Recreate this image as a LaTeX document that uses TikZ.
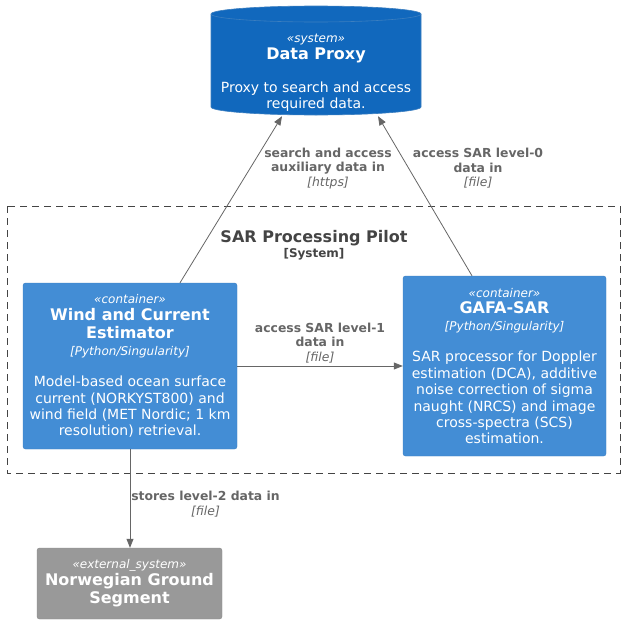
\documentclass[tikz,border=0pt]{standalone}
\usepackage{fontspec}
\setmainfont{DejaVu Sans}
\usetikzlibrary{arrows.meta,calc}
\definecolor{sysblue}{HTML}{1168BD}
\definecolor{contblue}{HTML}{438DD5}
\definecolor{extgrey}{HTML}{999999}
\definecolor{cborder}{HTML}{3C7FC0}
\definecolor{extborder}{HTML}{8A8A8A}
\definecolor{arrowgrey}{HTML}{666666}
\definecolor{bndgrey}{HTML}{444444}
\newcommand{\stereo}[1]{{\fontsize{12}{14}\selectfont\itshape #1}}
\newcommand{\ttl}[1]{{\fontsize{16}{18}\selectfont\bfseries #1}}
\newcommand{\tech}[1]{{\fontsize{12}{14}\selectfont\itshape #1}}
\tikzset{
  box/.style={draw=cborder, fill=contblue, rounded corners=2.5pt, text=white,
    align=center, inner sep=0pt, font=\fontsize{14}{16.4}\selectfont},
  extbox/.style={box, draw=extborder, fill=extgrey},
  dptext/.style={text=white, align=center, inner sep=0pt,
    font=\fontsize{14}{16.4}\selectfont, minimum width=210pt, minimum height=86pt},
  rel/.style={draw=arrowgrey, line width=0.8pt, -{Triangle[length=9pt,width=7pt]}},
  lbl/.style={text=arrowgrey, align=center, inner sep=0pt,
    font=\fontsize{12.4}{14.5}\selectfont\bfseries},
  boundary/.style={draw=bndgrey, line width=0.8pt, dash pattern=on 7pt off 5pt},
  bndtitle/.style={text=bndgrey, align=center, inner sep=0pt, font=\fontsize{16}{16}\selectfont\bfseries}
}
\begin{document}
\begin{tikzpicture}[x=1pt,y=-1pt]
\useasboundingbox (0,0) rectangle (626,624);
% cylinder of Data Proxy (y axis points down: angle 90 is the lower side)
\filldraw[fill=sysblue, draw=cborder, line width=0.6pt]
  (211,14) -- (211,107) arc[start angle=180, end angle=0, x radius=105, y radius=8]
  -- (421,14) arc[start angle=0, end angle=-180, x radius=105, y radius=8] -- cycle;
\draw[cborder, line width=0.6pt] (211,14) arc[start angle=180, end angle=0, x radius=105, y radius=8];
\node[dptext] (dp) at (316,73) {\stereo{«system»}\\ \ttl{Data Proxy}\\[17pt]
  Proxy to search and access\\ required data.};

% boundary
\draw[boundary] (7,206) rectangle (620,473);
\node[bndtitle] (bt) at (314,238.5) {SAR Processing Pilot};
\node[bndtitle, font=\fontsize{12}{12}\selectfont\bfseries] (bs) at (314,254.5) {[System]};

% containers
\node[box, minimum width=214pt, minimum height=166pt] (wind) at (130,366)
  {\stereo{«container»}\\[1pt] \ttl{Wind and Current}\\[1.5pt] \ttl{Estimator}\\[0.5pt] \tech{[Python/Singularity]}\\[14.6pt]
   Model-based ocean surface\\ current (NORKYST800) and\\ wind field (MET Nordic; 1 km\\ resolution) retrieval.};
\node[box, minimum width=203pt, minimum height=180pt] (gafa) at (504.5,366)
  {\stereo{«container»}\\[0.5pt] \ttl{GAFA-SAR}\\[0.5pt] \tech{[Python/Singularity]}\\[14.6pt]
   SAR processor for Doppler\\ estimation (DCA), additive\\ noise correction of sigma\\ naught (NRCS) and image\\ cross-spectra (SCS)\\ estimation.};
\node[extbox, minimum width=185pt, minimum height=71pt] (ng) at (129.5,583.5)
  {\stereo{«external\_system»}\\ \ttl{Norwegian Ground}\\[2pt] \ttl{Segment}};

% relations
\draw[rel] ($(wind.north)+(50,0)$) -- ($(dp.south)+(-34,0)$);
\draw[rel] ($(gafa.north)+(-32.5,0)$) -- ($(dp.south)+(62,0)$);
\draw[rel] (wind) -- (gafa);
\draw[rel] (wind.south) -- (wind.south |- ng.north);

% labels
\node[lbl] (l1) at (328,168.5) {search and access\\ auxiliary data in\\ {\mdseries\itshape [https]}};
\node[lbl] (l2) at (478,168.5) {access SAR level-0\\ data in\\ {\mdseries\itshape [file]}};
\node[lbl] (l3) at (320,343) {access SAR level-1\\ data in\\ {\mdseries\itshape [file]}};
\node[lbl] (l4) at (205.5,504) {stores level-2 data in\\ {\mdseries\itshape [file]}};
\end{tikzpicture}
\end{document}
